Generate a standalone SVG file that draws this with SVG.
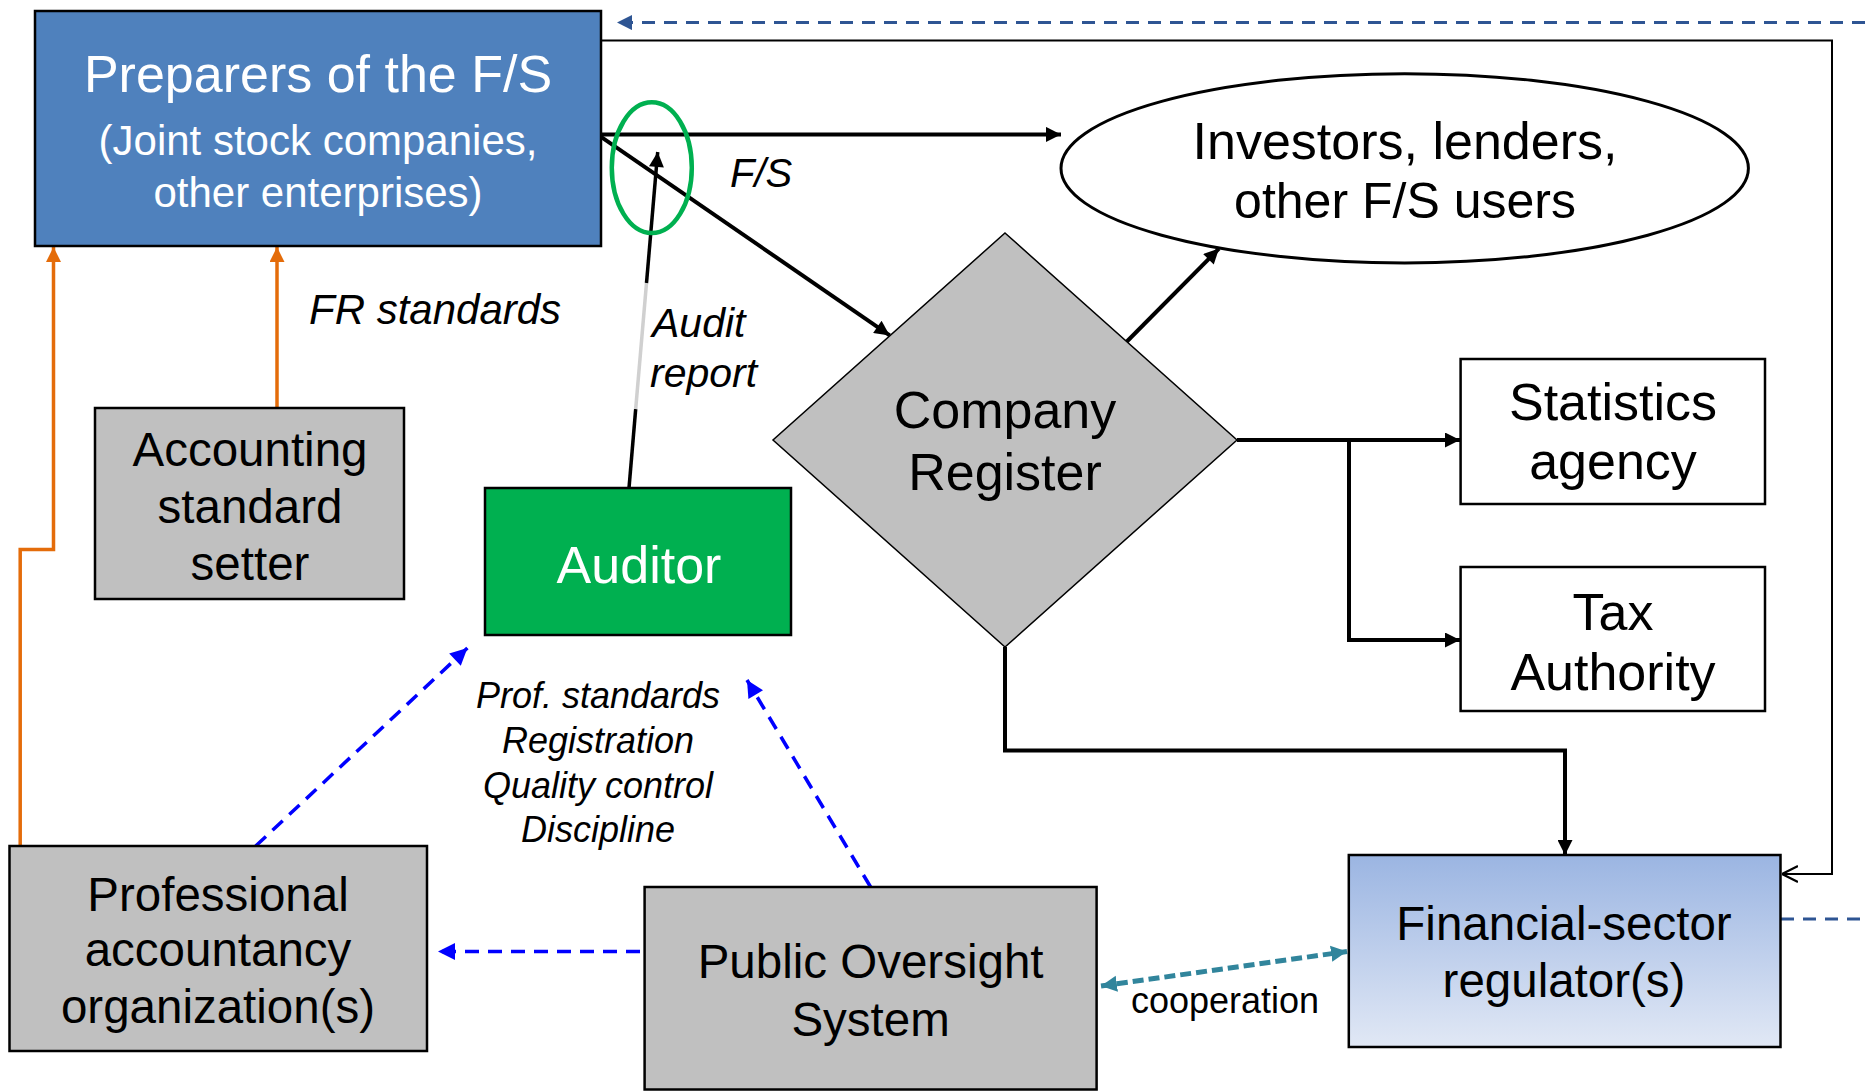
<svg xmlns="http://www.w3.org/2000/svg" width="1865" height="1092" viewBox="0 0 1865 1092">
<style>
text{font-family:"Liberation Sans",Arial,sans-serif;text-anchor:middle;fill:#000}
.w{fill:#fff}
.it{font-style:italic;text-anchor:start}
.box{stroke:#000;stroke-width:2.5}
.grey{fill:#C0C0C0}
.blk{fill:none;stroke:#000;stroke-width:4}
.thin{fill:none;stroke:#000;stroke-width:2}
.org{fill:none;stroke:#E46C0A;stroke-width:3.5}
.blue{fill:none;stroke:#0000FF;stroke-width:3.5;stroke-dasharray:14 9}
.navy{fill:none;stroke:#2E5593;stroke-width:3;stroke-dasharray:13 9}
.teal{fill:none;stroke:#31859C;stroke-width:5;stroke-dasharray:11 5}
</style>
<defs>
<marker id="aB" viewBox="0 0 10 10" refX="10" refY="5" markerUnits="userSpaceOnUse" markerWidth="20" markerHeight="15" orient="auto"><path d="M0,0L10,5L0,10z" fill="#000"/></marker>
<marker id="aOpen" viewBox="0 0 10 10" refX="10" refY="5" markerUnits="userSpaceOnUse" markerWidth="16" markerHeight="22" orient="auto"><path d="M0,0L10,5L0,10" fill="none" stroke="#000" stroke-width="1.5"/></marker>
<marker id="aO" viewBox="0 0 10 10" refX="10" refY="5" markerUnits="userSpaceOnUse" markerWidth="17" markerHeight="15" orient="auto"><path d="M0,0L10,5L0,10z" fill="#E46C0A"/></marker>
<marker id="aBl" viewBox="0 0 10 10" refX="10" refY="5" markerUnits="userSpaceOnUse" markerWidth="20" markerHeight="17" orient="auto"><path d="M0,0L10,5L0,10z" fill="#0000FF"/></marker>
<marker id="aN" viewBox="0 0 10 10" refX="10" refY="5" markerUnits="userSpaceOnUse" markerWidth="17" markerHeight="15" orient="auto"><path d="M0,0L10,5L0,10z" fill="#2E5593"/></marker>
<marker id="aT" viewBox="0 0 10 10" refX="10" refY="5" markerUnits="userSpaceOnUse" markerWidth="16" markerHeight="17" orient="auto-start-reverse"><path d="M0,0L10,5L0,10z" fill="#31859C"/></marker>
<linearGradient id="gReg" x1="0" y1="0" x2="0" y2="1"><stop offset="0" stop-color="#9BB5E2"/><stop offset="1" stop-color="#E1E8F5"/></linearGradient>
</defs>

<g id="connectors">
<path class="navy" d="M1865,22.6H617" marker-end="url(#aN)"/>
<path class="navy" d="M1781,919H1865"/>
<path class="thin" d="M600,40.4H1832V874H1782" marker-end="url(#aOpen)"/>
<path class="blk" d="M601,134.4H1061" marker-end="url(#aB)"/>
<path class="blk" d="M601,136.8L889.7,335.4" marker-end="url(#aB)"/>
<path class="blk" d="M1126.4,342L1219,248.6" marker-end="url(#aB)"/>
<path class="blk" d="M1237,440H1460" marker-end="url(#aB)"/>
<path class="blk" d="M1349,440V640H1460" marker-end="url(#aB)"/>
<path class="blk" d="M1005,647V750.5H1565V855" marker-end="url(#aB)"/>
<path fill="none" stroke="#000" stroke-width="3.5" d="M629,488L635.7,409"/>
<path fill="none" stroke="#D0D0D0" stroke-width="3.5" d="M635.7,409L646.5,283"/>
<path fill="none" stroke="#000" stroke-width="3.5" d="M646.5,283L657.7,152" marker-end="url(#aB)"/>
<path class="org" d="M277,408V247" marker-end="url(#aO)"/>
<path class="org" d="M20.2,846V549.5H53.5V247" marker-end="url(#aO)"/>
<path class="blue" d="M255.7,846L467.4,648" marker-end="url(#aBl)"/>
<path class="blue" d="M870.6,887L747,680" marker-end="url(#aBl)"/>
<path class="blue" d="M640,951.5H438" marker-end="url(#aBl)"/>
<path class="teal" d="M1101,986L1347,951.5" marker-start="url(#aT)" marker-end="url(#aT)"/>
<ellipse cx="651.8" cy="167.7" rx="40" ry="65.4" fill="none" stroke="#00B050" stroke-width="4.5"/>
<text class="it" x="730" y="186.7" font-size="40">F/S</text>
<text class="it" x="309" y="323.5" font-size="42">FR standards</text>
<text class="it" x="652" y="336.6" font-size="41">Audit</text>
<text class="it" x="650" y="386.5" font-size="41">report</text>
<g font-style="italic" font-size="36">
<text x="598" y="707.7">Prof. standards</text>
<text x="598" y="752.9">Registration</text>
<text x="598" y="798">Quality control</text>
<text x="598" y="842">Discipline</text>
</g>
<text x="1225" y="1013" font-size="36">cooperation</text>
</g>

<g id="preparers">
<rect class="box" x="35" y="11" width="566" height="235" fill="#4F81BD"/>
<text class="w" x="318" y="91.6" font-size="52">Preparers of the F/S</text>
<text class="w" x="318" y="154.6" font-size="42">(Joint stock companies,</text>
<text class="w" x="318" y="207" font-size="42">other enterprises)</text>
</g>

<g id="investors">
<ellipse cx="1404.7" cy="168.3" rx="343.7" ry="94.6" fill="#fff" stroke="#000" stroke-width="3"/>
<text x="1405" y="159" font-size="52">Investors, lenders,</text>
<text x="1405" y="217.7" font-size="50">other F/S users</text>
</g>

<g id="company-register">
<path d="M1005,233L1237,440L1005,647L773,440z" class="grey" stroke="#000" stroke-width="1.5"/>
<text x="1005" y="428" font-size="52">Company</text>
<text x="1005" y="490" font-size="52">Register</text>
</g>

<g id="statistics">
<rect class="box" x="1460.6" y="359" width="304.4" height="145" fill="#fff"/>
<text x="1613" y="420" font-size="52">Statistics</text>
<text x="1613" y="479" font-size="52">agency</text>
</g>

<g id="tax">
<rect class="box" x="1460.6" y="567" width="304.4" height="144" fill="#fff"/>
<text x="1613" y="630" font-size="52">Tax</text>
<text x="1613" y="690" font-size="52">Authority</text>
</g>

<g id="accounting-standard-setter">
<rect class="box grey" x="95" y="408" width="309" height="191"/>
<text x="250" y="466" font-size="47.5">Accounting</text>
<text x="250" y="523" font-size="47.5">standard</text>
<text x="250" y="580" font-size="47.5">setter</text>
</g>

<g id="auditor">
<rect class="box" x="485" y="488" width="306" height="147" fill="#00B050"/>
<text class="w" x="639" y="583" font-size="52">Auditor</text>
</g>

<g id="professional">
<rect class="box grey" x="9.5" y="846" width="417.5" height="205"/>
<text x="218" y="911" font-size="47.5">Professional</text>
<text x="218" y="966" font-size="47.5">accountancy</text>
<text x="218" y="1023" font-size="47.5">organization(s)</text>
</g>

<g id="public-oversight">
<rect class="box grey" x="644.6" y="887" width="452" height="202.5"/>
<text x="870.6" y="977.7" font-size="47.5">Public Oversight</text>
<text x="870.6" y="1036" font-size="47.5">System</text>
</g>

<g id="regulator">
<rect class="box" x="1348.8" y="855" width="431.7" height="192" fill="url(#gReg)"/>
<text x="1564" y="940" font-size="47.5">Financial-sector</text>
<text x="1564" y="997" font-size="47.5">regulator(s)</text>
</g>
</svg>
